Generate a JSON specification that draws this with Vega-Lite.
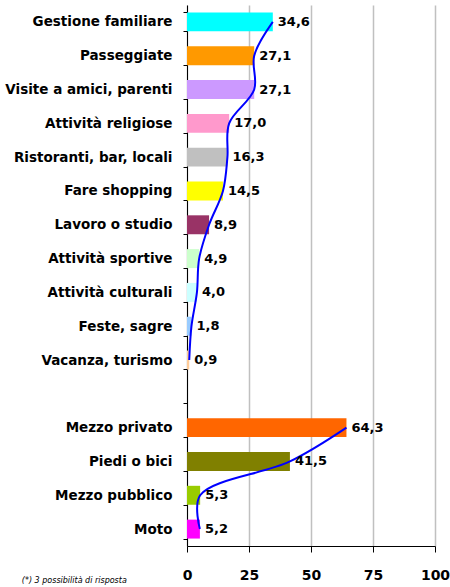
{
  "$schema": "https://vega.github.io/schema/vega-lite/v6.json",
  "width": 248,
  "height": 541,
  "autosize": {"type": "none"},
  "padding": {"left": 187, "top": 5, "right": 15, "bottom": 41},
  "config": {
    "view": {"stroke": null},
    "font": "DejaVu Sans",
    "locale": {"number": {"decimal": ",", "thousands": ".", "grouping": [3], "currency": ["", " €"]}}
  },
  "title": {
    "text": "(*) 3 possibilità di risposta",
    "orient": "bottom",
    "anchor": "start",
    "frame": "bounds",
    "fontSize": 8,
    "fontStyle": "italic",
    "fontWeight": "normal",
    "color": "#000000",
    "offset": -5,
    "dx": 17
  },
  "data": {
    "values": [
      {"idx": 1, "cat": "Gestione familiare", "value": 34.6, "group": "A"},
      {"idx": 2, "cat": "Passeggiate", "value": 27.1, "group": "A"},
      {"idx": 3, "cat": "Visite a amici, parenti", "value": 27.1, "group": "A"},
      {"idx": 4, "cat": "Attività religiose", "value": 17.0, "group": "A"},
      {"idx": 5, "cat": "Ristoranti, bar, locali", "value": 16.3, "group": "A"},
      {"idx": 6, "cat": "Fare shopping", "value": 14.5, "group": "A"},
      {"idx": 7, "cat": "Lavoro o studio", "value": 8.9, "group": "A"},
      {"idx": 8, "cat": "Attività sportive", "value": 4.9, "group": "A"},
      {"idx": 9, "cat": "Attività culturali", "value": 4.0, "group": "A"},
      {"idx": 10, "cat": "Feste, sagre", "value": 1.8, "group": "A"},
      {"idx": 11, "cat": "Vacanza, turismo", "value": 0.9, "group": "A"},
      {"idx": 13, "cat": "Mezzo privato", "value": 64.3, "group": "B"},
      {"idx": 14, "cat": "Piedi o bici", "value": 41.5, "group": "B"},
      {"idx": 15, "cat": "Mezzo pubblico", "value": 5.3, "group": "B"},
      {"idx": 16, "cat": "Moto", "value": 5.2, "group": "B"}
    ]
  },
  "encoding": {
    "y": {
      "field": "cat",
      "type": "nominal",
      "title": null,
      "scale": {
        "domain": ["Gestione familiare", "Passeggiate", "Visite a amici, parenti", "Attività religiose", "Ristoranti, bar, locali", "Fare shopping", "Lavoro o studio", "Attività sportive", "Attività culturali", "Feste, sagre", "Vacanza, turismo", " ", "Mezzo privato", "Piedi o bici", "Mezzo pubblico", "Moto"],
        "paddingInner": 0.44,
        "paddingOuter": 0.22
      },
      "axis": {
        "tickBand": "extent",
        "tickSize": 4,
        "tickColor": "#000000",
        "domainColor": "#000000",
        "domainWidth": 1,
        "labelFont": "DejaVu Sans",
        "labelFontSize": 13.5,
        "labelFontWeight": "bold",
        "labelColor": "#000000",
        "labelPadding": 11,
        "grid": false
      }
    },
    "x": {
      "field": "value",
      "type": "quantitative",
      "title": null,
      "scale": {"domain": [0, 100]},
      "axis": {
        "values": [0, 25, 50, 75, 100],
        "grid": true,
        "gridColor": "#c0c0c0",
        "gridWidth": 1.5,
        "tickSize": 6,
        "tickColor": "#000000",
        "domainColor": "#000000",
        "labelFont": "DejaVu Sans",
        "labelFontSize": 14,
        "labelFontWeight": "bold",
        "labelColor": "#000000",
        "labelPadding": 16,
        "labelFlush": false
      }
    }
  },
  "layer": [
    {
      "mark": {"type": "bar"},
      "encoding": {
        "color": {
          "field": "cat",
          "type": "nominal",
          "legend": null,
          "scale": {
            "domain": ["Gestione familiare", "Passeggiate", "Visite a amici, parenti", "Attività religiose", "Ristoranti, bar, locali", "Fare shopping", "Lavoro o studio", "Attività sportive", "Attività culturali", "Feste, sagre", "Vacanza, turismo", "Mezzo privato", "Piedi o bici", "Mezzo pubblico", "Moto"],
            "range": ["#00FFFF", "#FF9900", "#CC99FF", "#FF99CC", "#C0C0C0", "#FFFF00", "#993366", "#CCFFCC", "#CCFFFF", "#99CCFF", "#FFCC99", "#FF6600", "#808000", "#99CC00", "#FF00FF"]
          }
        }
      }
    },
    {
      "mark": {"type": "line", "interpolate": "catmull-rom", "color": "#0000FF", "strokeWidth": 2},
      "encoding": {
        "detail": {"field": "group", "type": "nominal"},
        "order": {"field": "idx", "type": "quantitative"}
      }
    },
    {
      "mark": {"type": "text", "align": "left", "baseline": "middle", "dx": 5, "fontSize": 13, "fontWeight": "bold", "font": "DejaVu Sans", "color": "#000000"},
      "encoding": {
        "text": {"field": "value", "type": "quantitative", "format": ".1f"}
      }
    }
  ]
}
